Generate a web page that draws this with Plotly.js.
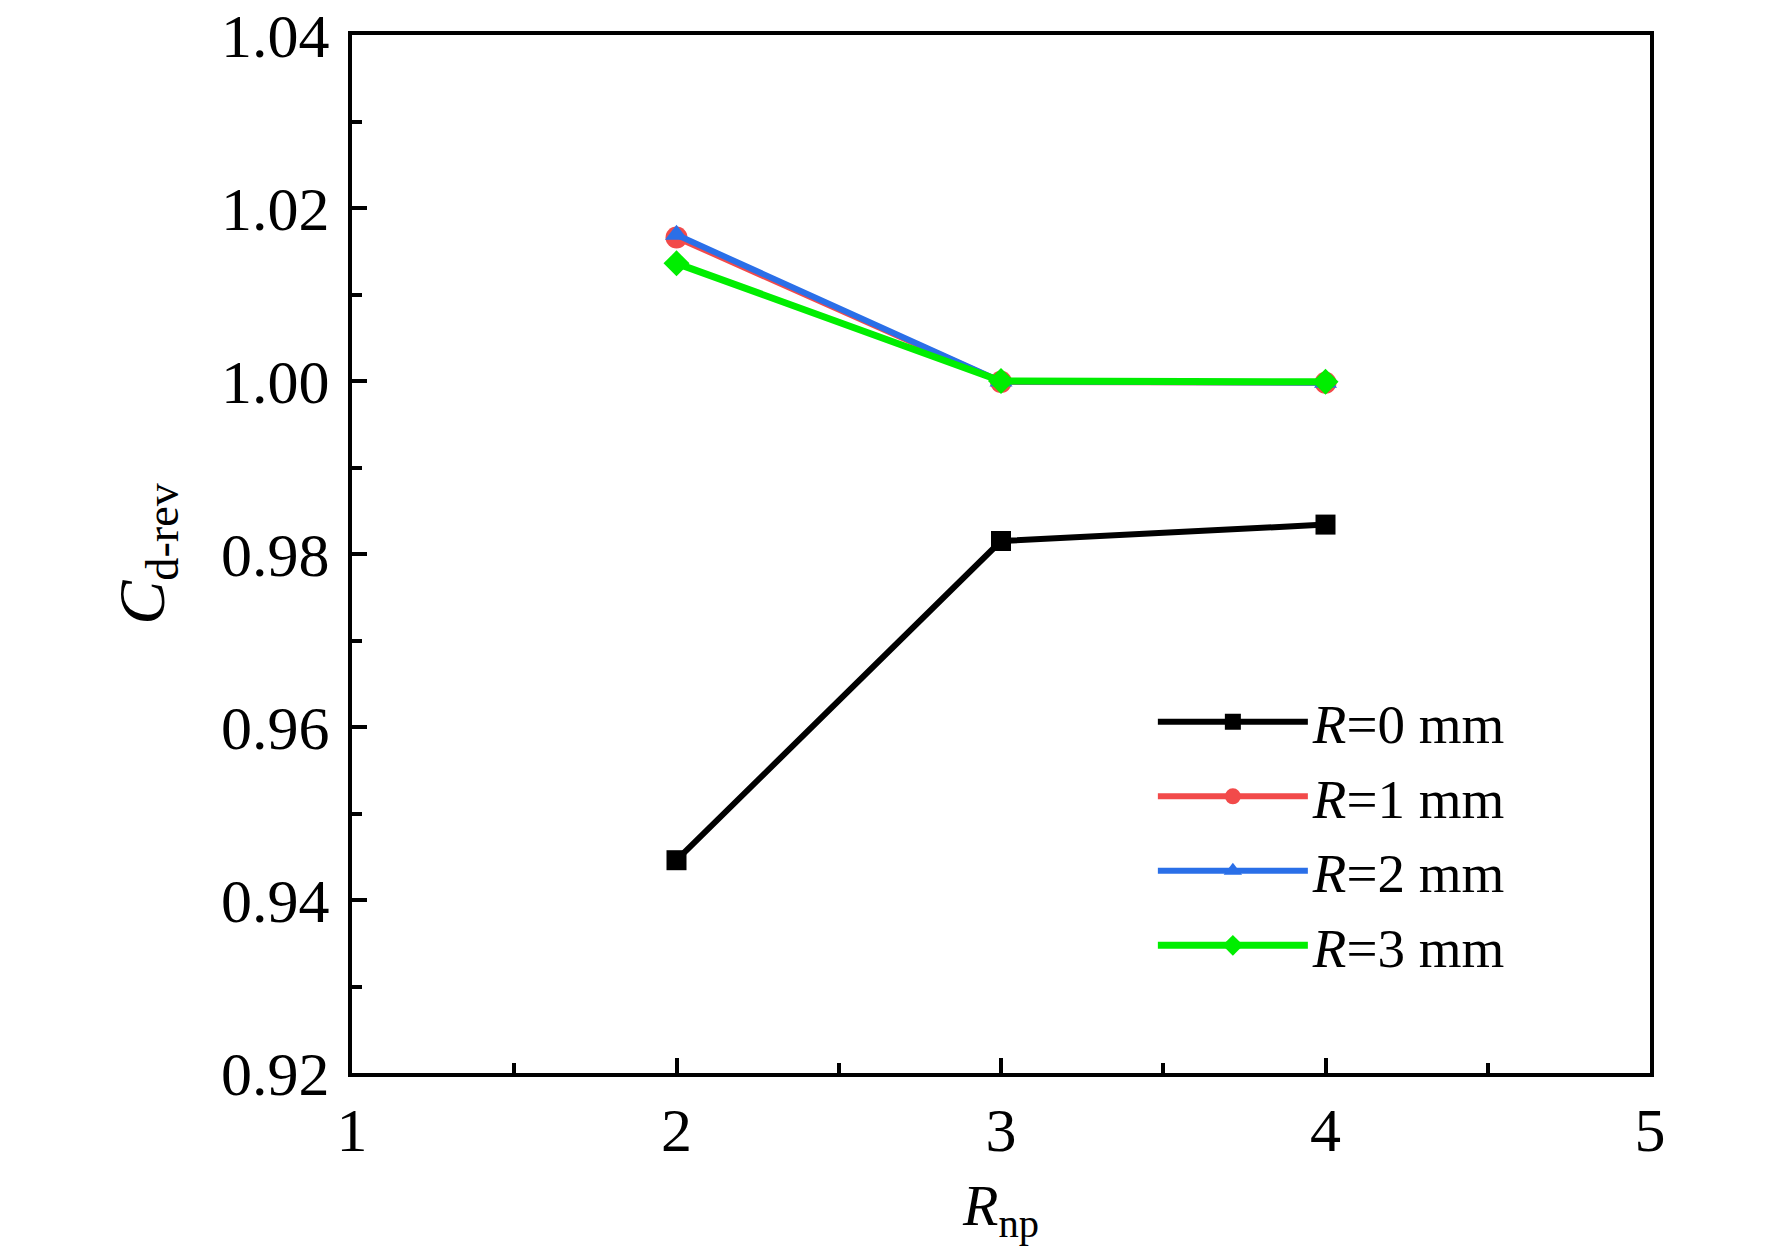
<!DOCTYPE html>
<html>
<head>
<meta charset="utf-8">
<script src="https://cdn.plot.ly/plotly-3.0.1.min.js"></script>
<style>
  html, body { margin: 0; padding: 0; background: #fff; }
  #chart { width: 1772px; height: 1259px; }
</style>
</head>
<body>
<div id="chart"></div>
<script>
// === Data === //
var rnp = [2, 3, 4];
var cdR0 = [0.9446, 0.9815, 0.9834];
var cdR1 = [1.0166, 0.9999, 0.9998];
var cdR2 = [1.0169, 0.99995, 0.9998];
var cdR3 = [1.0136, 1.0000, 0.9999];
var seriesNames = ['<i>R</i>=0 mm', '<i>R</i>=1 mm', '<i>R</i>=2 mm', '<i>R</i>=3 mm'];
var yTicks = [0.92, 0.94, 0.96, 0.98, 1.00, 1.02, 1.04];

var serif = '"Liberation Serif", "Times New Roman", serif';

function makeTrace(y, name, color, symbol, size, width){
    return {
        x: rnp,
        y: y,
        name: name,
        type: 'scatter',
        mode: 'lines+markers',
        line: {color: color, width: width},
        marker: {symbol: symbol, size: size, color: color}
    };
};

var traces = [
    makeTrace(cdR0, seriesNames[0], '#000000', 'square', 20, 6),
    makeTrace(cdR1, seriesNames[1], '#f24a4a', 'circle', 22, 6),
    makeTrace(cdR2, seriesNames[2], '#2a6fe8', 'triangle-up', 20, 6),
    makeTrace(cdR3, seriesNames[3], '#00ee00', 'diamond', 20, 7)
];

var layout = {
    width: 1772,
    height: 1259,
    margin: {l: 352, r: 122, t: 35, b: 186},
    paper_bgcolor: '#ffffff',
    plot_bgcolor: '#ffffff',
    font: {family: serif, color: '#000', size: 60},
    showlegend: true,
    legend: {
        x: 0.617, y: 0.379, xanchor: 'left', yanchor: 'top',
        bgcolor: 'rgba(0,0,0,0)',
        itemwidth: 150,
        font: {family: serif, size: 55, color: '#000'}
    },
    xaxis: {
        range: [1, 5],
        tickvals: [1, 2, 3, 4, 5],
        showgrid: false, zeroline: false,
        showline: true, mirror: true, linecolor: '#000', linewidth: 4,
        ticks: 'inside', ticklen: 15, tickwidth: 4, tickcolor: '#000',
        minor: {ticks: 'inside', dtick: 0.5, ticklen: 10, tickwidth: 4, tickcolor: '#000', showgrid: false},
        tickfont: {family: serif, size: 62},
        title: {text: '<i>R</i><sub>np</sub>', font: {family: serif, size: 58}, standoff: 22}
    },
    yaxis: {
        range: [0.92, 1.04],
        tickvals: yTicks,
        tickformat: '.2f',
        showgrid: false, zeroline: false,
        showline: true, mirror: true, linecolor: '#000', linewidth: 4,
        ticks: 'inside', ticklen: 15, tickwidth: 4, tickcolor: '#000',
        minor: {ticks: 'inside', dtick: 0.01, ticklen: 10, tickwidth: 4, tickcolor: '#000', showgrid: false},
        tickfont: {family: serif, size: 62},
        ticklabelstandoff: 6,
        title: {text: '<i>C</i><sub>d-rev</sub>', font: {family: serif, size: 66}, standoff: 36}
    }
};

Plotly.newPlot('chart', traces, layout, {staticPlot: true, displayModeBar: false});
</script>
</body>
</html>
